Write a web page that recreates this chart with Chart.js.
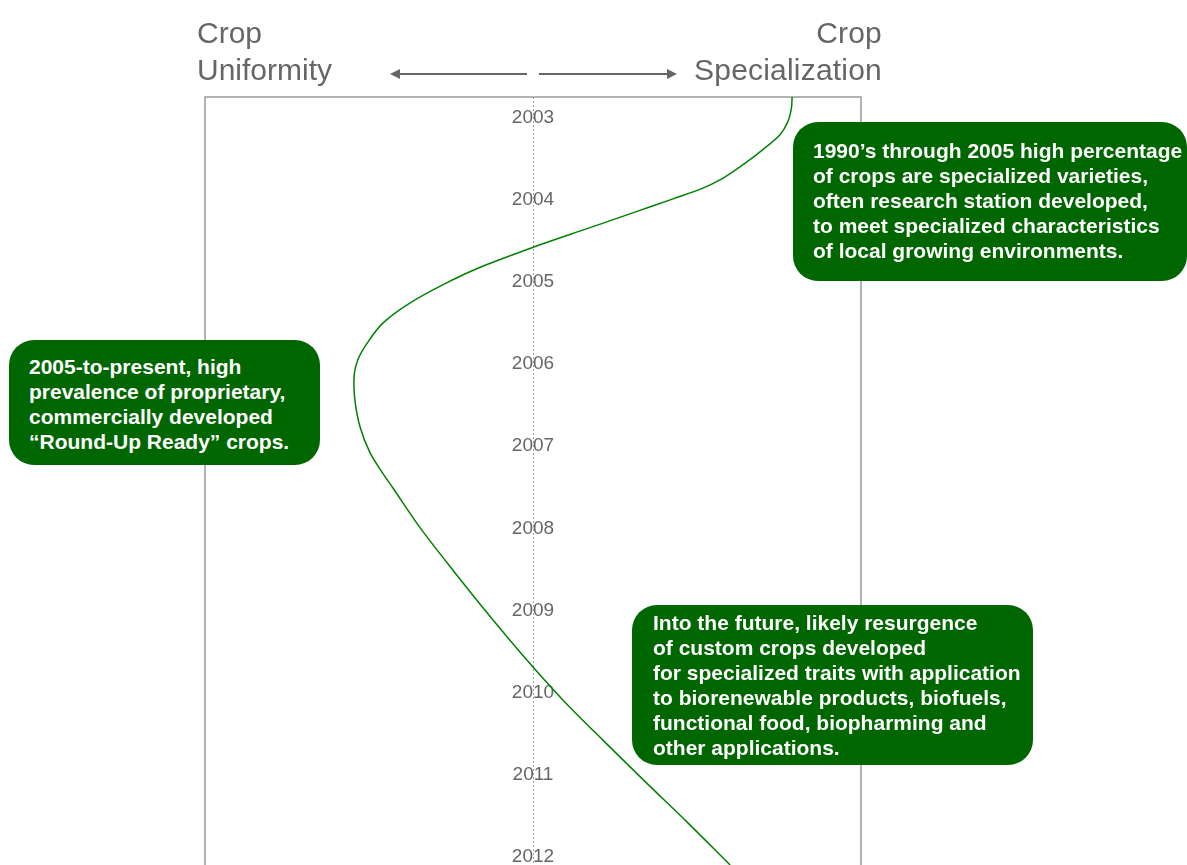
<!DOCTYPE html>
<html>
<head>
<meta charset="utf-8">
<title>Crop Uniformity vs Crop Specialization</title>
<script src="https://cdn.jsdelivr.net/npm/chart.js@4/dist/chart.umd.min.js"></script>
<style>
  html, body { margin: 0; padding: 0; background: #fff; }
  #wrap { position: relative; width: 1187px; height: 865px; overflow: hidden; font-family: "Liberation Sans", Arial, sans-serif; }
  #wrap canvas { position: absolute; left: 0; top: 0; }
  .head { position: absolute; color: #666; font-size: 30px; line-height: 37px; white-space: pre; }
  .note { position: absolute; background: #006600; color: #fff; font-weight: bold; font-size: 21px; line-height: 25px;
          border-radius: 25px; white-space: pre; box-sizing: border-box; display: flex; align-items: center; }
  svg { position: absolute; left: 0; top: 0; }
</style>
</head>
<body>
<div id="wrap">
  <canvas id="chart" width="1187" height="865"></canvas>
  <div class="head" style="left:197px; top:14px;">Crop
Uniformity</div>
  <div class="head" style="right:305px; top:14px; text-align:right; letter-spacing:0.2px;">Crop
Specialization</div>
  <svg width="1187" height="100">
    <g stroke="#666" stroke-width="2" fill="#666">
      <line x1="398" y1="74" x2="527" y2="74"/>
      <polygon points="390,74 400,69 400,79" stroke="none"/>
      <line x1="539" y1="74" x2="669" y2="74"/>
      <polygon points="677,74 667,69 667,79" stroke="none"/>
    </g>
  </svg>
  <div class="note" style="left:793px; top:122px; width:394px; height:159px; padding-left:20px; padding-bottom:2px;">1990’s through 2005 high percentage
of crops are specialized varieties,
often research station developed,
to meet specialized characteristics
of local growing environments.</div>
  <div class="note" style="left:9px; top:340px; width:311px; height:125px; padding-left:20px; padding-top:2px;">2005-to-present, high
prevalence of proprietary,
commercially developed
“Round-Up Ready” crops.</div>
  <div class="note" style="left:632px; top:605px; width:401px; height:160px; padding-left:21px;">Into the future, likely resurgence
of custom crops developed
for specialized traits with application
to biorenewable products, biofuels,
functional food, biopharming and
other applications.</div>
</div>
<script>
// Year markers printed down the centre line
const yearTicks = [2003, 2004, 2005, 2006, 2007, 2008, 2009, 2010, 2011, 2012];

// Position of the trend along the uniformity (-) / specialization (+) axis, by year
const curveYears = [2002.77, 2002.90, 2003.07, 2003.23, 2003.41, 2003.62, 2003.78, 2003.88,
                    2004.01, 2004.15, 2004.36, 2004.60, 2004.84, 2005.06, 2005.30, 2005.52,
                    2005.77, 2005.97, 2006.22, 2006.46, 2006.79, 2007.10, 2007.34, 2007.53,
                    2008.01, 2008.44, 2008.99, 2009.71, 2010.11, 2010.60, 2011.09, 2011.61,
                    2012.12];
const specialization = [79.0, 78.8, 77.7, 75.3, 70.1, 63.1, 57.0, 51.8,
                        42.7, 32.6, 17.4, 0.0, -15.9, -27.7, -38.4, -45.7,
                        -50.6, -53.4, -54.6, -54.3, -52.7, -49.7, -46.0, -42.7,
                        -34.5, -26.2, -15.2, 0.0, 9.1, 21.3, 33.8, 47.3,
                        60.1];

const points = curveYears.map((y, i) => ({ x: specialization[i], y: y }));

// Frame, dotted centre line and year labels
const framePlugin = {
  id: 'frame',
  beforeDatasetsDraw(chart) {
    const { ctx, chartArea: a, scales } = chart;
    const cx = scales.x.getPixelForValue(0);
    ctx.save();
    ctx.strokeStyle = '#9a9a9a';
    ctx.lineWidth = 1.5;
    ctx.beginPath();
    ctx.moveTo(a.left, a.bottom + 5);
    ctx.lineTo(a.left, a.top);
    ctx.lineTo(a.right, a.top);
    ctx.lineTo(a.right, a.bottom + 5);
    ctx.stroke();

    ctx.strokeStyle = '#a0a0a0';
    ctx.lineWidth = 1;
    ctx.setLineDash([2, 2]);
    ctx.beginPath();
    ctx.moveTo(Math.round(cx) + 0.5, a.top);
    ctx.lineTo(Math.round(cx) + 0.5, a.bottom);
    ctx.stroke();
    ctx.setLineDash([]);

    ctx.fillStyle = '#666';
    ctx.font = '19px "Liberation Sans", Arial, sans-serif';
    ctx.textAlign = 'center';
    ctx.textBaseline = 'alphabetic';
    yearTicks.forEach(yr => {
      ctx.fillText(String(yr), cx, scales.y.getPixelForValue(yr) + 7);
    });
    ctx.restore();
  }
};

new Chart(document.getElementById('chart'), {
  type: 'line',
  data: {
    datasets: [{
      data: points,
      borderColor: '#008000',
      borderWidth: 1.5,
      pointRadius: 0,
      cubicInterpolationMode: 'monotone',
      fill: false
    }]
  },
  options: {
    responsive: false,
    animation: false,
    indexAxis: 'y',
    layout: { padding: { left: 205, top: 97, right: 326, bottom: 0 } },
    scales: {
      x: { type: 'linear', min: -100, max: 100, display: false },
      y: { type: 'linear', min: 2002.77, max: 2012.12, reverse: true, display: false }
    },
    plugins: { legend: { display: false }, tooltip: { enabled: false } }
  },
  plugins: [framePlugin]
});
</script>
</body>
</html>
